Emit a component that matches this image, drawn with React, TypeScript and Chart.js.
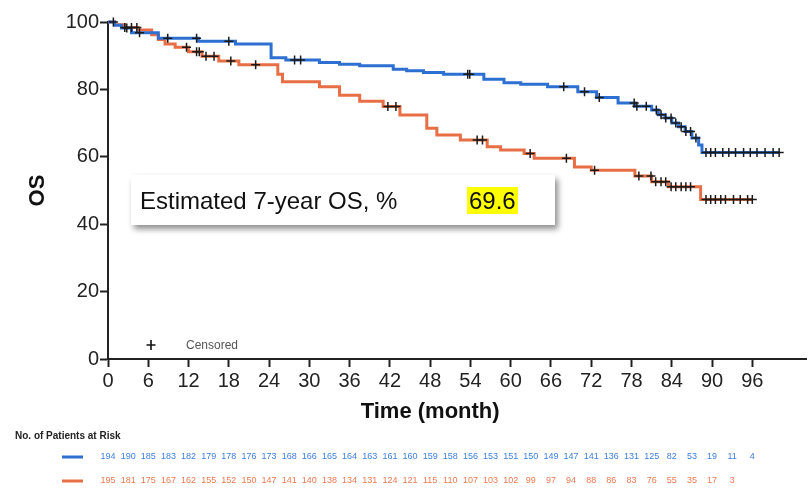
import { useEffect, useRef } from 'react';
import { Chart, registerables } from 'chart.js';

Chart.register(...registerables);

const FONT = "Arial, 'Liberation Sans', Helvetica, sans-serif";

const BLUE = '#2e6fd2';
const ORANGE = '#e86f45';
const BLUE_TEXT = '#3d7fdc';
const ORANGE_TEXT = '#eb7a52';

// Kaplan-Meier steps: time of each drop (months) and the survival (%) after it
const blueMonths = [0, 1, 2, 3.5, 7.5, 13.5, 19, 24.3, 26.5, 31.5, 34.5, 37.5, 42.5, 44.5, 47, 50, 56, 59, 61.5, 65.5, 70, 72.8, 76, 78.5, 81, 82, 83, 84, 85, 86, 87, 88, 88.5, 100];
const blueSurvival = [100, 99, 98.2, 96.8, 95.2, 94.3, 93.5, 89.4, 88.7, 88.0, 87.5, 87.0, 86.0, 85.5, 85.0, 84.5, 83.0, 82.0, 81.5, 80.8, 79.3, 77.6, 76.0, 75.0, 73.9, 72.5, 71.5, 70.0, 68.9, 67.5, 65.6, 63.5, 61.3, 61.3];

const orangeMonths = [0, 1, 2.5, 4.5, 6.5, 7.5, 8.5, 10, 12, 14, 16.5, 19.5, 25.3, 26, 31.5, 34.5, 37.5, 41, 43.5, 47.5, 49, 52.5, 56.5, 58.5, 62, 63.5, 69.5, 72, 78.5, 81, 83.5, 88.3, 96];
const orangeSurvival = [100, 99.2, 98.4, 97.6, 96.2, 94.8, 93.5, 92.5, 91.2, 89.8, 88.4, 87.3, 84.5, 82.3, 80.8, 78.3, 76.5, 74.9, 72.4, 68.5, 66.5, 65.0, 63.0, 62.0, 61.0, 59.6, 57.0, 56.0, 54.3, 52.6, 51.1, 47.3, 47.3];

// Censoring times (months)
const blueCensored = [2.8, 4.7, 8.9, 13.2, 18, 27.8, 28.7, 53.6, 53.9, 67.9, 71, 73.2, 78.4, 78.8, 80.2, 81.7, 82.4, 83.1, 83.9, 84.6, 85.4, 86.1, 86.8, 87.6, 89.1, 89.8, 90.5, 91.6, 92.5, 93.5, 94.7, 95.7, 96.7, 97.9, 99.1, 100];
const orangeCensored = [0.8, 2.5, 3.5, 4.3, 11.7, 13.2, 13.6, 14.6, 15.8, 18.3, 22, 41.7, 42.9, 55.0, 55.8, 62.9, 68.3, 72.5, 79.1, 80.9, 81.6, 82.4, 83.1, 83.9, 84.6, 85.4, 86.1, 86.8, 89.1, 89.8, 90.5, 91.3, 92, 93.2, 94.2, 95.3, 96];

// Number at risk table
const riskMonths = [0, 3, 6, 9, 12, 15, 18, 21, 24, 27, 30, 33, 36, 39, 42, 45, 48, 51, 54, 57, 60, 63, 66, 69, 72, 75, 78, 81, 84, 87, 90, 93, 96];
const blueAtRisk = [194, 190, 185, 183, 182, 179, 178, 176, 173, 168, 166, 165, 164, 163, 161, 160, 159, 158, 156, 153, 151, 150, 149, 147, 141, 136, 131, 125, 82, 53, 19, 11, 4];
const orangeAtRisk = [195, 181, 175, 167, 162, 155, 152, 150, 147, 141, 140, 138, 134, 131, 124, 121, 115, 110, 107, 103, 102, 99, 97, 94, 88, 86, 83, 76, 55, 35, 17, 3];

const xTicks = [0, 6, 12, 18, 24, 30, 36, 42, 48, 54, 60, 66, 72, 78, 84, 90, 96];
const yTicks = [0, 20, 40, 60, 80, 100];

const estimateLabel = 'Estimated 7-year OS, %';
const estimateValue = '69.6';

function stepPoints(months: number[], surv: number[]) {
  return months.map((m, i) => ({ x: m, y: surv[i] }));
}

function survivalAt(months: number[], surv: number[], t: number) {
  let v = surv[0];
  for (let i = 0; i < months.length; i++) {
    if (months[i] <= t) v = surv[i];
  }
  return v;
}

function censorPoints(times: number[], months: number[], surv: number[]) {
  return times.map((t) => ({ x: t, y: survivalAt(months, surv, t) }));
}

const overlay = {
  id: 'kmOverlay',
  afterDraw(chart: any) {
    const { ctx, chartArea } = chart;
    const xs = chart.scales.x;
    ctx.save();

    // axis titles
    ctx.fillStyle = '#111';
    ctx.font = `bold 22px ${FONT}`;
    ctx.textAlign = 'center';
    ctx.textBaseline = 'middle';
    ctx.fillText('Time (month)', (xs.getPixelForValue(0) + xs.getPixelForValue(96)) / 2, 412);
    ctx.save();
    ctx.translate(38, (chartArea.top + chartArea.bottom) / 2);
    ctx.rotate(-Math.PI / 2);
    ctx.fillText('OS', 0, 0);
    ctx.restore();

    // censor key
    ctx.strokeStyle = '#111';
    ctx.lineWidth = 1.6;
    ctx.beginPath();
    ctx.moveTo(151, 340);
    ctx.lineTo(151, 350);
    ctx.moveTo(146.5, 345);
    ctx.lineTo(155.5, 345);
    ctx.stroke();
    ctx.fillStyle = '#555';
    ctx.font = `12px ${FONT}`;
    ctx.textAlign = 'left';
    ctx.fillText('Censored', 186, 346);

    // estimate box
    ctx.save();
    ctx.shadowColor = 'rgba(0,0,0,0.45)';
    ctx.shadowBlur = 6;
    ctx.shadowOffsetX = 3;
    ctx.shadowOffsetY = 4;
    ctx.fillStyle = '#fff';
    ctx.fillRect(131, 175, 424, 50);
    ctx.restore();
    ctx.fillStyle = '#ffff00';
    ctx.fillRect(467, 187, 51, 27);
    ctx.fillStyle = '#111';
    ctx.font = `24px ${FONT}`;
    ctx.textBaseline = 'alphabetic';
    ctx.fillText(estimateLabel, 140, 209);
    ctx.fillText(estimateValue, 469, 209);

    // number at risk
    ctx.textBaseline = 'middle';
    ctx.fillStyle = '#222';
    ctx.font = `bold 10px ${FONT}`;
    ctx.fillText('No. of Patients at Risk', 15, 436);

    const rows = [
      { y: 457, color: BLUE, text: BLUE_TEXT, values: blueAtRisk },
      { y: 481, color: ORANGE, text: ORANGE_TEXT, values: orangeAtRisk },
    ];
    ctx.font = `9px ${FONT}`;
    ctx.textAlign = 'center';
    for (const row of rows) {
      ctx.strokeStyle = row.color;
      ctx.lineWidth = 3;
      ctx.beginPath();
      ctx.moveTo(62, row.y);
      ctx.lineTo(83, row.y);
      ctx.stroke();
      ctx.fillStyle = row.text;
      row.values.forEach((v, i) => {
        ctx.fillText(String(v), xs.getPixelForValue(riskMonths[i]), row.y);
      });
    }
    ctx.restore();
  },
};

export default function App() {
  const ref = useRef<HTMLCanvasElement>(null);

  useEffect(() => {
    const axisGrid = {
      drawOnChartArea: false,
      drawTicks: true,
      tickLength: 8,
      tickColor: '#222',
      tickWidth: 2,
    };
    const chart = new Chart(ref.current!, {
      type: 'line',
      data: {
        datasets: [
          {
            label: 'Orange arm',
            data: stepPoints(orangeMonths, orangeSurvival),
            borderColor: ORANGE,
            borderWidth: 3,
            stepped: true,
            pointRadius: 0,
            fill: false,
            clip: false,
            order: 4,
          },
          {
            label: 'Blue arm',
            data: stepPoints(blueMonths, blueSurvival),
            borderColor: BLUE,
            borderWidth: 3,
            stepped: true,
            pointRadius: 0,
            fill: false,
            clip: false,
            order: 3,
          },
          {
            label: 'Orange censored',
            data: censorPoints(orangeCensored, orangeMonths, orangeSurvival),
            showLine: false,
            pointStyle: 'cross',
            pointRadius: 4.5,
            pointBorderWidth: 1.5,
            pointBorderColor: '#1a1a1a',
            clip: false,
            order: 2,
          },
          {
            label: 'Blue censored',
            data: censorPoints(blueCensored, blueMonths, blueSurvival),
            showLine: false,
            pointStyle: 'cross',
            pointRadius: 4.5,
            pointBorderWidth: 1.5,
            pointBorderColor: '#1a1a1a',
            clip: false,
            order: 1,
          },
        ],
      },
      options: {
        animation: false,
        responsive: false,
        devicePixelRatio: 1,
        layout: { padding: { top: 22, left: 0, right: 1, bottom: 0 } },
        plugins: {
          legend: { display: false },
          tooltip: { enabled: false },
        },
        scales: {
          x: {
            type: 'linear',
            min: 0,
            max: 104,
            afterFit: (s: any) => {
              s.height = 131;
            },
            afterBuildTicks: (s: any) => {
              s.ticks = xTicks.map((v) => ({ value: v }));
            },
            grid: axisGrid,
            border: { color: '#222', width: 2 },
            ticks: {
              color: '#222',
              padding: 2,
              maxRotation: 0,
              autoSkip: false,
              font: { family: FONT, size: 20 },
            },
          },
          y: {
            type: 'linear',
            min: 0,
            max: 100,
            afterFit: (s: any) => {
              s.width = 108;
            },
            afterBuildTicks: (s: any) => {
              s.ticks = yTicks.map((v) => ({ value: v }));
            },
            grid: axisGrid,
            border: { color: '#222', width: 2 },
            ticks: {
              color: '#222',
              padding: 1,
              font: { family: FONT, size: 20 },
            },
          },
        },
      },
      plugins: [overlay],
    } as any);
    return () => chart.destroy();
  }, []);

  return (
    <div style={{ position: 'absolute', left: 0, top: 0, width: 812, height: 490, background: '#fff' }}>
      <canvas ref={ref} width={812} height={490} style={{ display: 'block', width: 812, height: 490 }} />
    </div>
  );
}
